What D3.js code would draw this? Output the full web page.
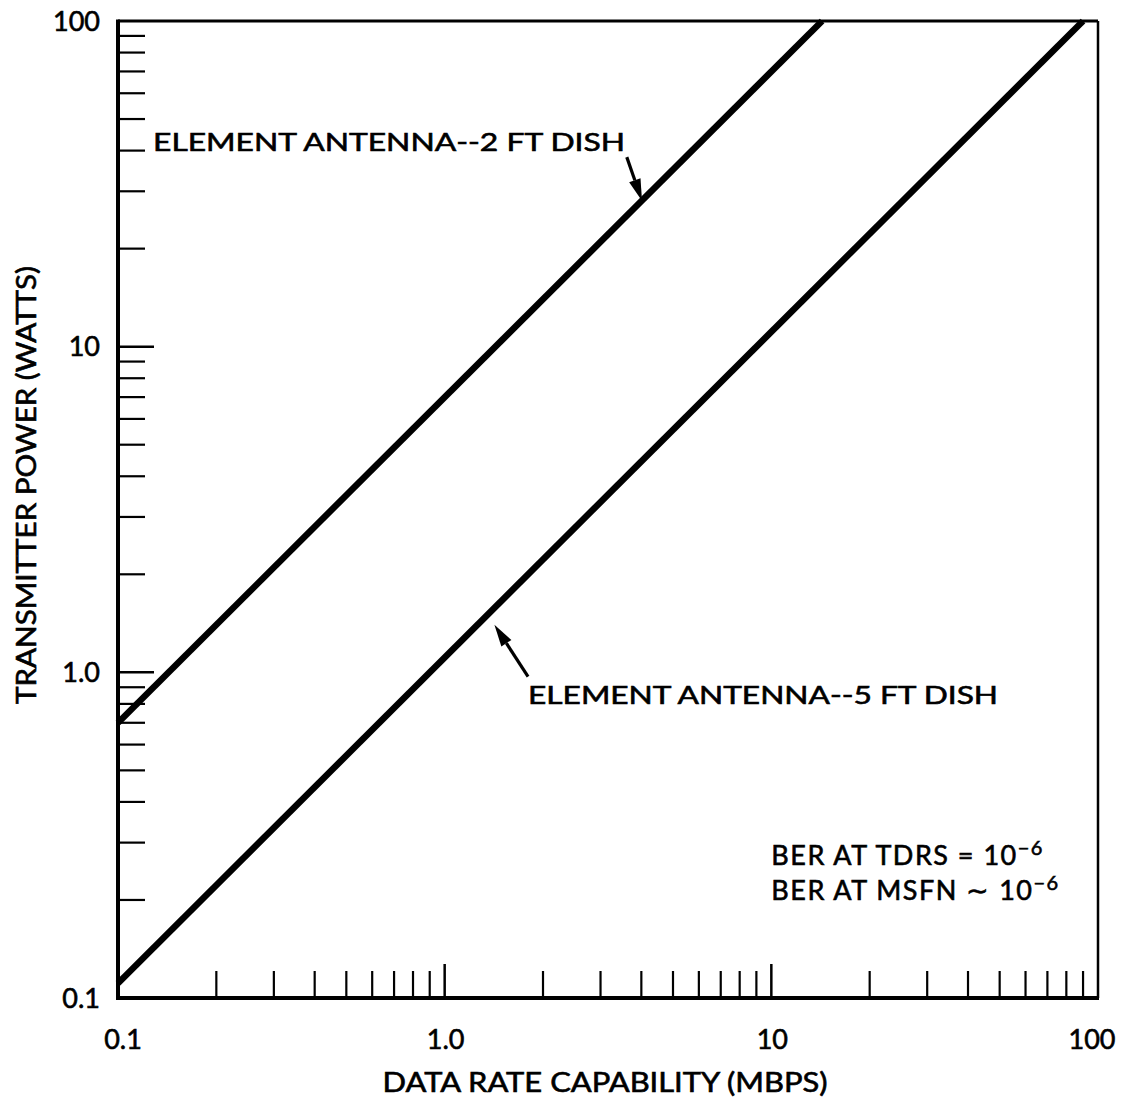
<!DOCTYPE html>
<html>
<head>
<meta charset="utf-8">
<script src="https://cdn.jsdelivr.net/npm/d3@7"></script>
<style>
  html, body { margin: 0; padding: 0; background: #fff; }
  svg { display: block; }
  text { font-family: Lato, "Open Sans", sans-serif; fill: #000; stroke: #000; stroke-width: 0.6px; }
</style>
</head>
<body>
<svg id="chart" width="1128" height="1101"></svg>
<script>
// ---- data ----
const xDomain = [0.1, 100];
const yDomain = [0.1, 100];
const xMajorTicks = [0.1, 1, 10, 100];
const xTickLabels = ["0.1", "1.0", "10", "100"];
const yMajorTicks = [0.1, 1, 10, 100];
const yTickLabels = ["0.1", "1.0", "10", "100"];
const minorMultipliers = [2, 3, 4, 5, 6, 7, 8, 9];

const series2ftRate = [0.1, 14.3];
const series2ftPower = [0.70, 100];
const series5ftRate = [0.1, 90];
const series5ftPower = [0.111, 100];

const label2ft = "ELEMENT ANTENNA--2 FT DISH";
const label5ft = "ELEMENT ANTENNA--5 FT DISH";
const xTitle = "DATA RATE CAPABILITY (MBPS)";
const yTitle = "TRANSMITTER POWER (WATTS)";

// ---- layout ----
const mLeft = 118, mRight = 1098, mTop = 21, mBottom = 998;
const svg = d3.select("#chart");
const x = d3.scaleLog().domain(xDomain).range([mLeft, mRight]);
const y = d3.scaleLog().domain(yDomain).range([mBottom, mTop]);

// frame
svg.append("line").attr("x1", mLeft).attr("x2", mRight).attr("y1", mTop).attr("y2", mTop)
  .attr("stroke", "#000").attr("stroke-width", 3);
svg.append("line").attr("x1", mRight).attr("x2", mRight).attr("y1", mTop).attr("y2", mBottom)
  .attr("stroke", "#000").attr("stroke-width", 2.5);
svg.append("line").attr("x1", mLeft).attr("x2", mLeft).attr("y1", mTop - 1.5).attr("y2", mBottom + 2)
  .attr("stroke", "#000").attr("stroke-width", 4);
svg.append("line").attr("x1", mLeft - 2).attr("x2", mRight + 1).attr("y1", mBottom).attr("y2", mBottom)
  .attr("stroke", "#000").attr("stroke-width", 4);

// minor tick values
const minorVals = [];
[0.1, 1, 10].forEach(d => minorMultipliers.forEach(m => minorVals.push(+(d * m).toPrecision(3))));

// y ticks (inside, pointing right)
const yt = svg.append("g");
yt.selectAll("line.minor").data(minorVals).join("line")
  .attr("x1", mLeft).attr("x2", mLeft + 27)
  .attr("y1", d => y(d)).attr("y2", d => y(d))
  .attr("stroke", "#000").attr("stroke-width", 2.2);
yt.selectAll("line.major").data(yMajorTicks.slice(1, 3)).join("line")
  .attr("x1", mLeft).attr("x2", mLeft + 36)
  .attr("y1", d => y(d)).attr("y2", d => y(d))
  .attr("stroke", "#000").attr("stroke-width", 2.5);

// x ticks (inside, pointing up)
const xt = svg.append("g");
xt.selectAll("line.minor").data(minorVals).join("line")
  .attr("x1", d => x(d)).attr("x2", d => x(d))
  .attr("y1", mBottom).attr("y2", mBottom - 27)
  .attr("stroke", "#000").attr("stroke-width", 2.2);
xt.selectAll("line.major").data(xMajorTicks.slice(1, 3)).join("line")
  .attr("x1", d => x(d)).attr("x2", d => x(d))
  .attr("y1", mBottom).attr("y2", mBottom - 34)
  .attr("stroke", "#000").attr("stroke-width", 2.5);

// tick labels
svg.append("g").selectAll("text").data(yMajorTicks).join("text")
  .attr("x", 100).attr("y", d => y(d)).attr("dy", "0.36em")
  .attr("text-anchor", "end").attr("font-size", 27)
  .text((d, i) => yTickLabels[i]);
svg.append("g").selectAll("text").data(xMajorTicks).join("text")
  .attr("x", (d, i) => x(d) + (i === 0 ? 5 : (i === 3 ? -6 : 1))).attr("y", 1049)
  .attr("text-anchor", "middle").attr("font-size", 27)
  .text((d, i) => xTickLabels[i]);

// axis titles
svg.append("text").attr("x", 605).attr("y", 1092).attr("text-anchor", "middle")
  .attr("font-size", 26).attr("textLength", 445).attr("lengthAdjust", "spacingAndGlyphs")
  .text(xTitle);
svg.append("text").attr("transform", "translate(36,485) rotate(-90)")
  .attr("text-anchor", "middle").attr("font-size", 26)
  .attr("textLength", 438).attr("lengthAdjust", "spacingAndGlyphs")
  .text(yTitle);

// series lines
const lineGen = d3.line().x(d => x(d[0])).y(d => y(d[1]));
svg.append("path").datum(d3.zip(series2ftRate, series2ftPower))
  .attr("d", lineGen).attr("fill", "none").attr("stroke", "#000").attr("stroke-width", 6.5);
svg.append("path").datum(d3.zip(series5ftRate, series5ftPower))
  .attr("d", lineGen).attr("fill", "none").attr("stroke", "#000").attr("stroke-width", 6.5);

// annotations (positions in data units)
const ann2ftText = [0.128, 40];
const ann5ftText = [1.80, 0.80];
const arrow2ft = [[3.61, 38.2], [4.02, 28.0]];
const arrow5ft = [[1.80, 0.97], [1.42, 1.40]];
const berPos = [10.0, 0.256];
const ber2Pos = [10.0, 0.200];

svg.append("text").attr("x", x(ann2ftText[0])).attr("y", y(ann2ftText[1]))
  .attr("font-size", 25).attr("textLength", 472).attr("lengthAdjust", "spacingAndGlyphs")
  .text(label2ft);
svg.append("text").attr("x", x(ann5ftText[0])).attr("y", y(ann5ftText[1]))
  .attr("font-size", 25).attr("textLength", 470).attr("lengthAdjust", "spacingAndGlyphs")
  .text(label5ft);

function arrow(pts) {
  const [p0, p1] = pts.map(p => [x(p[0]), y(p[1])]);
  const dx = p1[0] - p0[0], dy = p1[1] - p0[1];
  const len = Math.hypot(dx, dy), ux = dx / len, uy = dy / len;
  const headLen = 22, headW = 6;
  const bx = p1[0] - ux * headLen, by = p1[1] - uy * headLen;
  svg.append("line").attr("x1", p0[0]).attr("y1", p0[1]).attr("x2", bx).attr("y2", by)
    .attr("stroke", "#000").attr("stroke-width", 3.2);
  svg.append("path")
    .attr("d", `M${p1[0]},${p1[1]} L${bx - uy * headW},${by + ux * headW} L${bx + uy * headW},${by - ux * headW} Z`)
    .attr("fill", "#000");
}
arrow(arrow2ft);
arrow(arrow5ft);

// BER note
const t1 = svg.append("text").attr("x", x(berPos[0])).attr("y", y(berPos[1]))
  .attr("font-size", 27).attr("letter-spacing", 1.5);
t1.append("tspan").text("BER AT TDRS = 10");
t1.append("tspan").attr("dy", -10).attr("font-size", 20).text("\u2212" + "6");
const t2 = svg.append("text").attr("x", x(ber2Pos[0])).attr("y", y(ber2Pos[1]))
  .attr("font-size", 27).attr("letter-spacing", 1.5);
t2.append("tspan").text("BER AT MSFN \u223C 10");
t2.append("tspan").attr("dy", -10).attr("font-size", 20).text("\u2212" + "6");
</script>
</body>
</html>
